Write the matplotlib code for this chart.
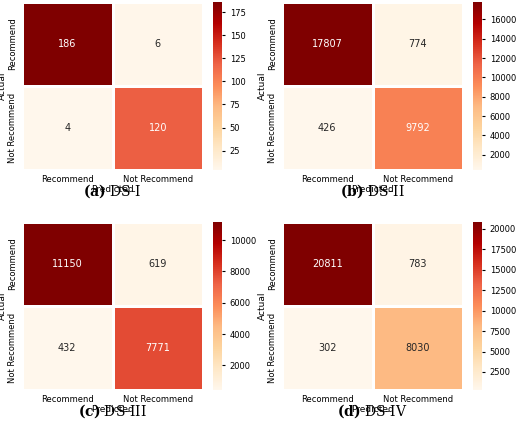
import matplotlib
matplotlib.use("Agg")
from matplotlib import pyplot as plt
import seaborn as sns
import numpy as np

labels = ["Recommend", "Not Recommend"]
captions = ["DS-I", "DS-II", "DS-III", "DS-IV"]
letters = ["a", "b", "c", "d"]
cm_a = [[186, 6], [4, 120]]
cm_b = [[17807, 774], [426, 9792]]
cm_c = [[11150, 619], [432, 7771]]
cm_d = [[20811, 783], [302, 8030]]
matrices = [cm_a, cm_b, cm_c, cm_d]

plt.rcParams["mathtext.fontset"] = "dejavuserif"

fig = plt.figure(figsize=(5.2, 4.4), dpi=100)
W, H = 520, 440
# pixel boxes (left, top) for each heatmap
origins = [(22, 2), (282, 2), (22, 222), (282, 222)]
hw, hh = 181, 168

for k, (x0, y0) in enumerate(origins):
    ax = fig.add_axes([x0 / W, 1 - (y0 + hh) / H, hw / W, hh / H])
    cax = fig.add_axes([(x0 + 191) / W, 1 - (y0 + hh) / H, 9 / W, hh / H])
    sns.heatmap(np.array(matrices[k]), annot=True, fmt="d", cmap="OrRd",
                xticklabels=labels, yticklabels=labels, ax=ax, cbar_ax=cax,
                linewidths=0.8, linecolor="white", annot_kws={"size": 7})
    ax.tick_params(labelsize=6, length=0)
    plt.setp(ax.get_xticklabels(), rotation=0)
    plt.setp(ax.get_yticklabels(), rotation=90, va="center")
    ax.set_xlabel("Predicted", fontsize=6.5, labelpad=1)
    ax.set_ylabel("Actual", fontsize=6.5, labelpad=1)
    cax.tick_params(labelsize=6, length=2)
    fig.text((x0 + hw / 2) / W, 1 - (y0 + 189) / H,
             r"$\mathbf{(" + letters[k] + r")}$ " + captions[k],
             ha="center", va="center", fontsize=10, family="DejaVu Serif")

fig.savefig("out.png", dpi=100)
